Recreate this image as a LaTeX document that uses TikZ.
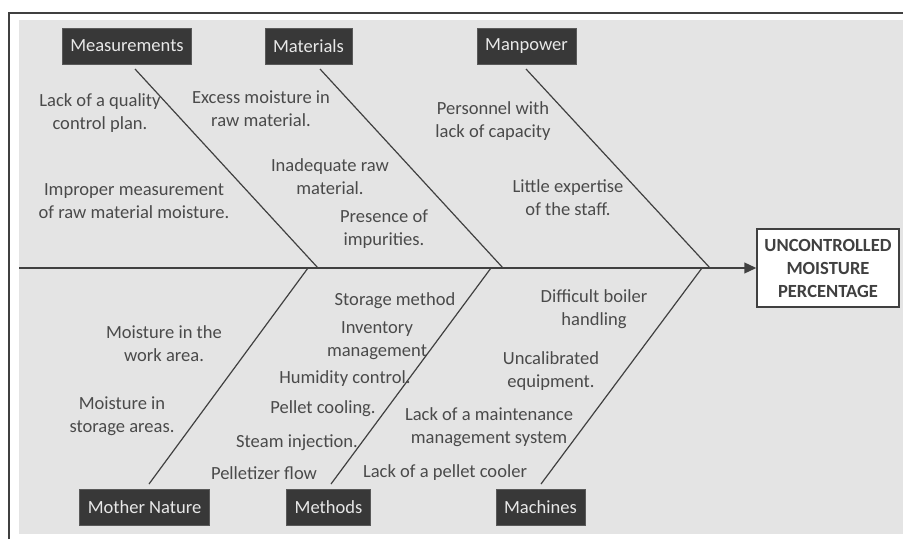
\documentclass[tikz,border=0pt]{standalone}
\usepackage{fontspec}
\setmainfont{Carlito}
\usetikzlibrary{arrows.meta}

\definecolor{panelgray}{HTML}{E4E4E4}
\definecolor{boxdark}{HTML}{383838}
\definecolor{boxtext}{HTML}{E8E8E8}
\definecolor{txtgray}{HTML}{4A4A4A}
\definecolor{linegray}{HTML}{404040}

\begin{document}
\begin{tikzpicture}[x=0.75pt,y=-0.75pt,
          every node/.style={font=\fontsize{13.9pt}{17.25pt}\selectfont},
          catbox/.style={rectangle, fill=boxdark, draw=gray!70!black, text=boxtext,
            inner xsep=6pt, minimum height=27pt},
          cause/.style={align=center, text=txtgray, inner sep=1pt},
          effectbox/.style={rectangle, draw=linegray, line width=1.5pt, fill=white,
            text=linegray, align=center, minimum width=106pt, minimum height=59pt,
            font=\fontsize{13.9pt}{17.25pt}\selectfont\bfseries},
          bone/.style={draw=linegray, line width=0.9pt},
          spine/.style={draw=linegray, line width=1.5pt, -{Triangle[length=9pt,width=8pt]}}]

        \useasboundingbox (0,0) rectangle (903,539);
        \fill[panelgray] (19,20) rectangle (903,534);
        \draw[linegray, line width=1.5pt] (8.5,539) -- (8.5,12.5) -- (903,12.5);

        % head and spine
        \node[effectbox] (eff) at (828,268) {UNCONTROLLED\\MOISTURE\\PERCENTAGE};
        \coordinate (tail) at (19,268);
        \draw[spine] (tail) -- (eff.west);

        % categories
        \node[catbox] (meas) at (127,46)    {Measurements};
        \node[catbox] (mat)  at (308.5,46)  {Materials};
        \node[catbox] (man)  at (526.5,46)  {Manpower};
        \node[catbox] (nat)  at (144.5,507.5) {Mother Nature};
        \node[catbox] (meth) at (328.5,507.5) {Methods};
        \node[catbox] (mach) at (540.5,507.5) {Machines};

        % bones
        \coordinate (b1) at (135,69);  \coordinate (j1) at (318,268);
        \coordinate (b2) at (320,69);  \coordinate (j2) at (503,268);
        \coordinate (b3) at (526,69);  \coordinate (j3) at (710,268);
        \coordinate (b4) at (149,484); \coordinate (j4) at (308,268);
        \coordinate (b5) at (331,484); \coordinate (j5) at (491,268);
        \coordinate (b6) at (541,484); \coordinate (j6) at (702,268);

        \draw[bone] (b1) -- (j1);
        \draw[bone] (b2) -- (j2);
        \draw[bone] (b3) -- (j3);
        \draw[bone] (b4) -- (j4);
        \draw[bone] (b5) -- (j5);
        \draw[bone] (b6) -- (j6);

        % causes, top
        \node[cause] (ms1) at (100,113) {Lack of a quality\\control plan.};
        \node[cause] (ms2) at (134,201) {Improper measurement\\of raw material moisture.};
        \node[cause] (mt1) at (261,109) {Excess moisture in\\raw material.};
        \node[cause] (mt2) at (330,177) {Inadequate raw\\material.};
        \node[cause] (mt3) at (384,229) {Presence of\\impurities.};
        \node[cause] (mp1) at (493,121) {Personnel with\\lack of capacity};
        \node[cause] (mp2) at (568,198) {Little expertise\\of the staff.};

        % causes, bottom
        \node[cause] (mn1) at (164,344) {Moisture in the\\work area.};
        \node[cause] (mn2) at (122,416) {Moisture in\\storage areas.};
        \node[cause] (me1) at (395,301) {Storage method};
        \node[cause] (me2) at (377,341) {Inventory\\management};
        \node[cause] (me3) at (345,379) {Humidity control.};
        \node[cause] (me4) at (323,409) {Pellet cooling.};
        \node[cause] (me5) at (297,443) {Steam injection.};
        \node[cause] (me6) at (264,473) {Pelletizer flow};
        \node[cause] (mc1) at (594,309) {Difficult boiler\\handling};
        \node[cause] (mc2) at (551,371) {Uncalibrated\\equipment.};
        \node[cause] (mc3) at (489,427) {Lack of a maintenance\\management system};
        \node[cause] (mc4) at (445,473) {Lack of a pellet cooler};

      \end{tikzpicture}
\end{document}
